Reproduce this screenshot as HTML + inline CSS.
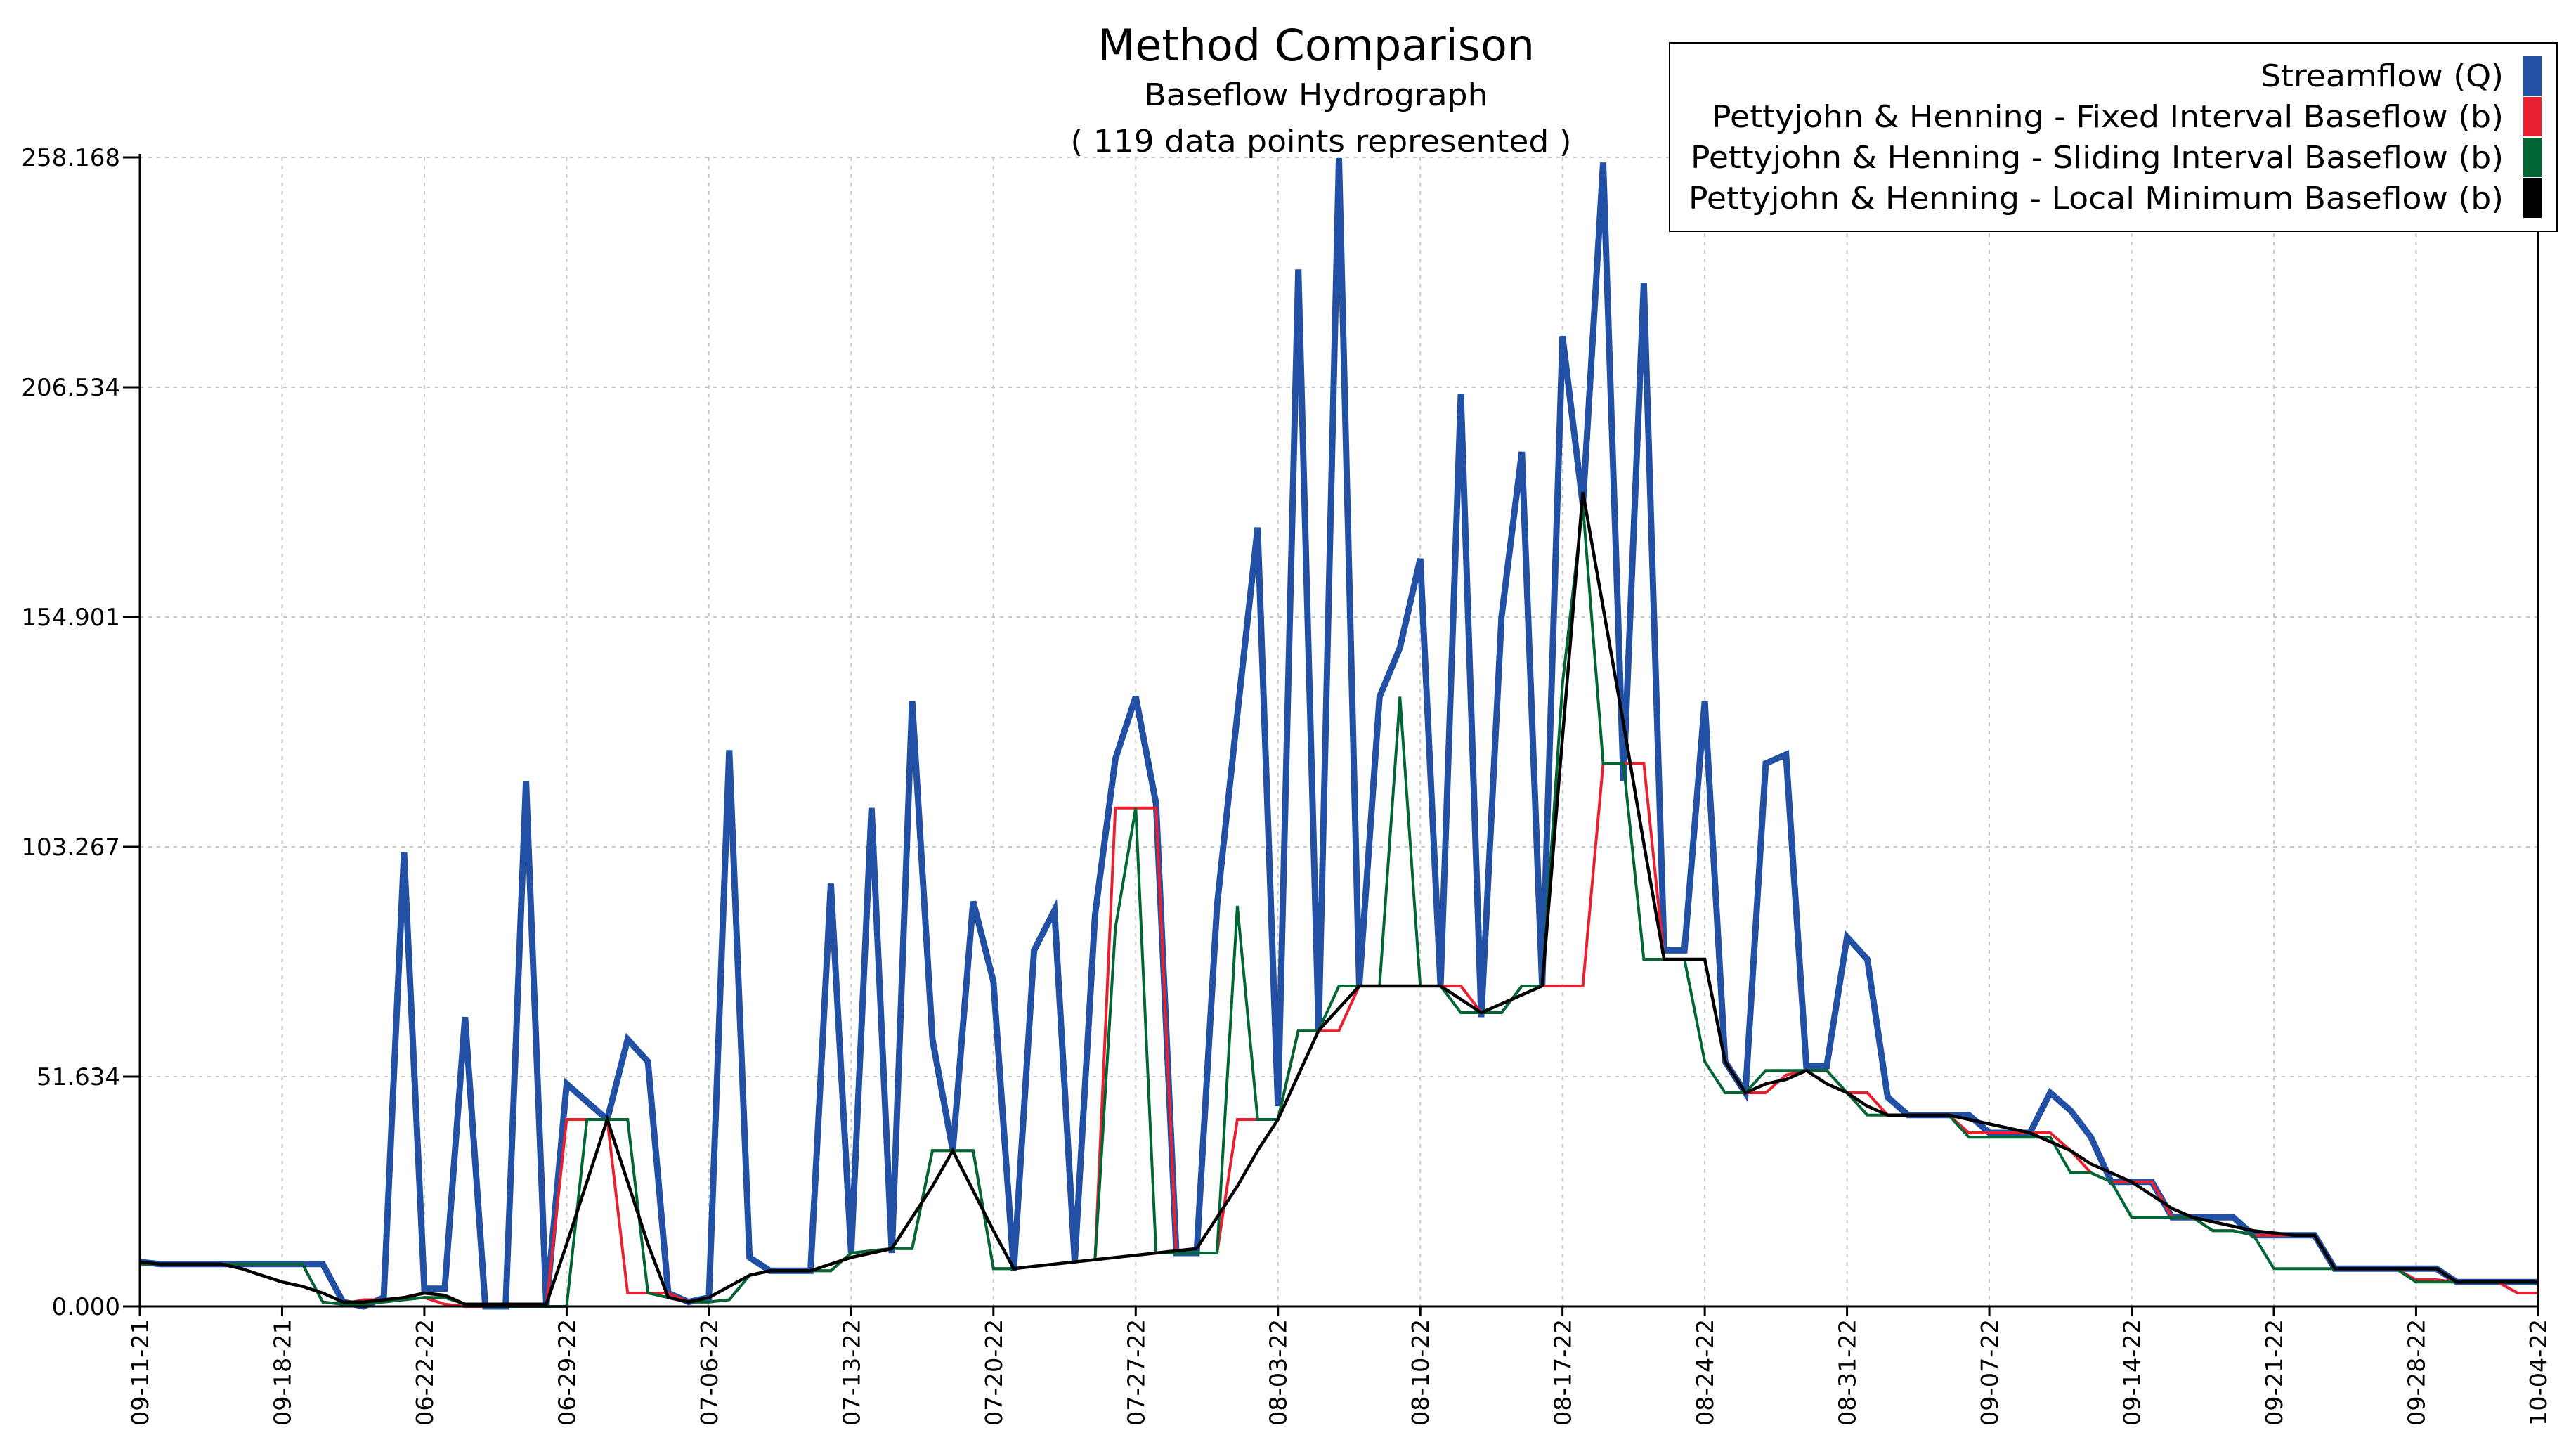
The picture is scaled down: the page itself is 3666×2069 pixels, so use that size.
<!DOCTYPE html>
<html><head><meta charset="utf-8"><style>
html,body{margin:0;padding:0;background:#fff;}
svg{display:block;font-family:"DejaVu Sans","Liberation Sans",sans-serif;}
</style></head><body>
<svg id="chart" width="3666" height="2069" viewBox="0 0 3666 2069" xmlns="http://www.w3.org/2000/svg">
<text x="1873" y="86" font-size="62" text-anchor="middle" textLength="622" lengthAdjust="spacingAndGlyphs" fill="#000">Method Comparison</text>
<text x="1873" y="150" font-size="44" text-anchor="middle" textLength="489" lengthAdjust="spacingAndGlyphs" fill="#000">Baseflow Hydrograph</text>
<text x="1880" y="216" font-size="44" text-anchor="middle" textLength="713" lengthAdjust="spacingAndGlyphs" fill="#000">( 119 data points represented )</text>
<g id="grid"></g>
<g id="series"></g>
<g id="axes"></g>
<g>
<rect x="2376" y="61" width="1263" height="268" fill="#fff" stroke="#000" stroke-width="2"/>
<text x="3563" y="123" font-size="44" text-anchor="end" textLength="346" lengthAdjust="spacingAndGlyphs">Streamflow (Q)</text>
<rect x="3591" y="80" width="26" height="56" fill="#2250a4"/>
<text x="3563" y="181" font-size="44" text-anchor="end" textLength="1127" lengthAdjust="spacingAndGlyphs">Pettyjohn &amp; Henning - Fixed Interval Baseflow (b)</text>
<rect x="3591" y="138" width="26" height="56" fill="#e8202f"/>
<text x="3563" y="239" font-size="44" text-anchor="end" textLength="1157" lengthAdjust="spacingAndGlyphs">Pettyjohn &amp; Henning - Sliding Interval Baseflow (b)</text>
<rect x="3591" y="196" width="26" height="56" fill="#006633"/>
<text x="3563" y="297" font-size="44" text-anchor="end" textLength="1160" lengthAdjust="spacingAndGlyphs">Pettyjohn &amp; Henning - Local Minimum Baseflow (b)</text>
<rect x="3591" y="254" width="26" height="56" fill="#000"/>
</g>
</svg>
<script>
const xLabels=["09-11-21","09-18-21","06-22-22","06-29-22","07-06-22","07-13-22","07-20-22","07-27-22","08-03-22","08-10-22","08-17-22","08-24-22","08-31-22","09-07-22","09-14-22","09-21-22","09-28-22","10-04-22"];
const xLabelIndex=[0,7,14,21,28,35,42,49,56,63,70,77,84,91,98,105,112,118];
const yTicks=[0,51.634,103.267,154.901,206.534,258.168];
const streamflow=[10,9.5,9.5,9.5,9.5,9.5,9.5,9.5,9.5,9.5,1,0,2,102,4,4,65,0,0,118,0,50,46,42,60,55,3,1,2,125,11,8,8,8,95,12,112,12,136,60,35,91,73,8,80,89,10,88,123,137,113,12,12,90,133,175,45,233,62,258,72,137,148,168,72,205,65,155,192,72,218,180,257,118,230,80,80,136,55,48,122,124,54,54,83,78,47,43,43,43,43,39,39,39,48,44,38,28,28,28,20,20,20,20,16,16,16,16,8.5,8.5,8.5,8.5,8.5,8.5,5.5,5.5,5.5,5.5,5.5];
const fixedInterval=[9.5,9.5,9.5,9.5,9.5,9.5,9.5,9.5,9.5,1,0.5,1.5,1.5,1.5,2,0.5,0,0,0,0,0,42,42,42,3,3,3,1,1,1.5,7,8,8,8,8,12,12.5,13,13,35,35,35,8.5,8.5,9,9.5,10,10.5,112,112,112,12,12,12,42,42,42,62,62,62,72,72,72,72,72,72,66,66,72,72,72,72,122,122,122,78,78,78,55,48,48,52,53,53,48,48,43,43,43,43,39,39,39,39,39,35,30,28,28,28,20,20,17,17,16,16,16,16,8.5,8.5,8.5,8.5,6,6,5.5,5.5,5.5,3,3];
const slidingInterval=[9.5,9.5,9.5,9.5,9.5,9.5,9.5,9.5,9.5,1,0.5,0.5,1,1.5,2,2,0.5,0,0,0,0,0,42,42,42,3,2,1,1,1.5,7,8,8,8,8,12,12.5,13,13,35,35,35,8.5,8.5,9,9.5,10,10.5,85,112,12,12,12,12,90,42,42,62,62,72,72,72,137,72,72,66,66,66,72,72,140,180,122,122,78,78,78,55,48,48,53,53,53,53,48,43,43,43,43,43,38,38,38,38,38,30,30,28,20,20,20,20,17,17,16,8.5,8.5,8.5,8.5,8.5,8.5,8.5,5.5,5.5,5.5,5.5,5.5,5.5,5.5];
const localMinimum=[10,9.5,9.5,9.5,9.5,8.5,7,5.5,4.5,3,1,1,1.5,2,3,2.5,0.5,0.5,0.5,0.5,0.5,14,28,42,28,14,2,1,2,4.5,7,8,8,8,9.5,11,12,13,20,27,35,26,17,8.5,9,9.5,10,10.5,11,11.5,12,12.5,13,20,27,35,42,52,62,67,72,72,72,72,72,69,66,68,70,72,128,183,157,131,104,78,78,78,55,48,50,51,53,50,48,45,43,43,43,43,42,41,40,39,37,35,32,30,28,25,22,20,19,18,17,16.5,16,16,8.5,8.5,8.5,8.5,8.5,8.5,5.5,5.5,5.5,5.5,5.5];

const NS="http://www.w3.org/2000/svg";
const L=199,R=3612,T=224,B=1859,YMAX=258.168,N=119;
function xs(i){return L+(R-L)*i/(N-1);}
function ys(v){return B-(B-T)*v/YMAX;}
function mk(tag,attrs,parent){const e=document.createElementNS(NS,tag);for(const k in attrs)e.setAttribute(k,attrs[k]);parent.appendChild(e);return e;}
const grid=document.getElementById('grid'),axes=document.getElementById('axes'),series=document.getElementById('series');
yTicks.forEach((t,k)=>{
  const y=ys(t);
  if(k>0){const g=mk('line',{x1:L,x2:R,y1:y,y2:y,stroke:'#c8c8c8','stroke-width':2,'stroke-dasharray':'5,7'},grid);
  
  }
  const tk=mk('line',{x1:L-24,x2:L,y1:y,y2:y,stroke:'#000','stroke-width':3},axes);
  
  
  const tx=mk('text',{x:L-28,y:y+12,'font-size':34,'text-anchor':'end'},axes);
  tx.textContent=t.toFixed(3);
  
  
});
xLabels.forEach((lab,k)=>{
  const x=xs(xLabelIndex[k]);
  if(k>0&&k<xLabels.length-1){const g=mk('line',{x1:x,x2:x,y1:T,y2:B,stroke:'#c8c8c8','stroke-width':2,'stroke-dasharray':'5,7'},grid);
  
  }
  const tk=mk('line',{x1:x,x2:x,y1:B,y2:B+14,stroke:'#000','stroke-width':3},axes);
  
  
  const tx=mk('text',{x:0,y:0,'font-size':33,'text-anchor':'end',textLength:152,lengthAdjust:'spacingAndGlyphs',transform:`translate(${x+12},${B+18}) rotate(-90)`},axes);
  tx.textContent=lab;
  
  
});
const ax1=mk('line',{x1:L,x2:L,y1:T-5,y2:B,stroke:'#000','stroke-width':3},axes);


const ax2=mk('line',{x1:L,x2:R,y1:B,y2:B,stroke:'#000','stroke-width':3},axes);


const ax3=mk('line',{x1:R,x2:R,y1:T,y2:B,stroke:'#000','stroke-width':3},axes);


function line(arr,color,w,name){
  const d=arr.map((v,i)=>(i?'L':'M')+xs(i).toFixed(1)+','+ys(v).toFixed(1)).join(' ');
  const p=mk('path',{d:d,fill:'none',stroke:color,'stroke-width':w,'stroke-linejoin':'miter'},series);
  
  
}
line(streamflow,'#2250a4',9,'streamflow-line');
line(fixedInterval,'#e8202f',4,'fixed-interval-line');
line(slidingInterval,'#006633',4,'sliding-interval-line');
line(localMinimum,'#000',4.5,'local-minimum-line');
</script>
</body></html>
